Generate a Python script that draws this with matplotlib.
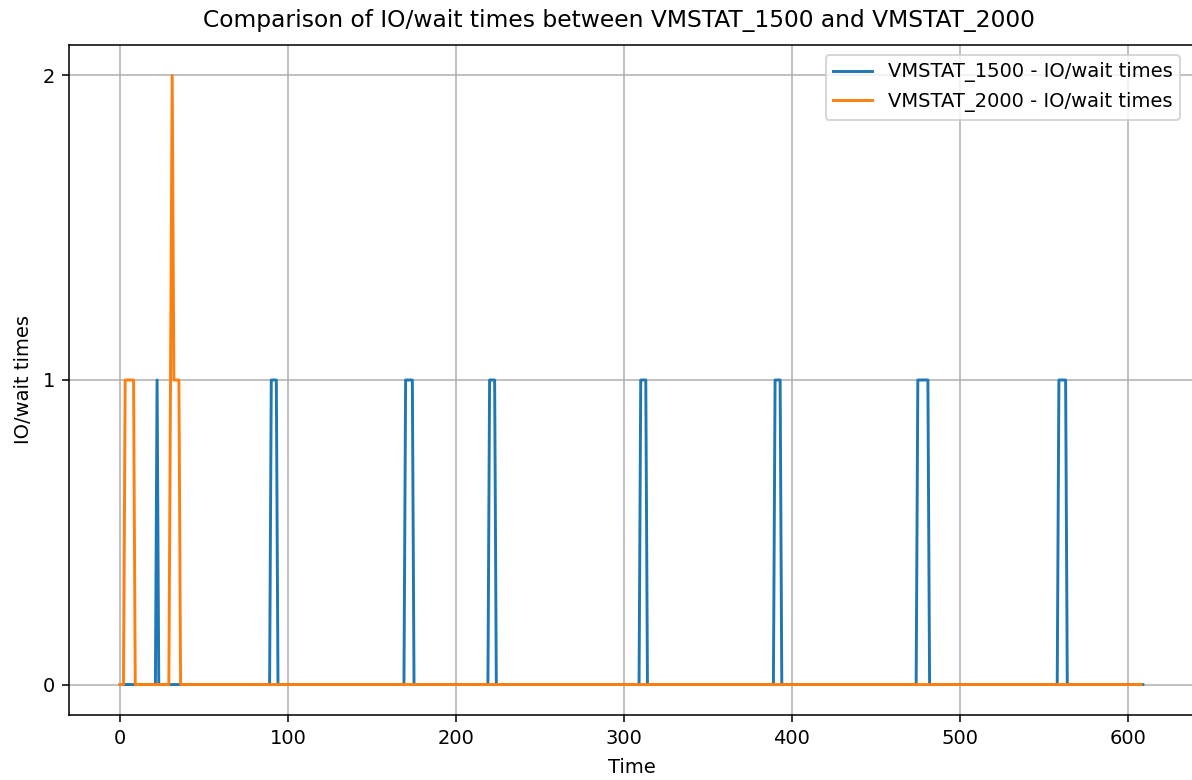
import matplotlib
matplotlib.use("Agg")
import matplotlib.pyplot as plt

# Vertices of the step-like series (time, value)
blue_time = [0, 21, 22, 23, 89, 90, 93, 94, 169, 170, 174, 175, 219, 220, 223, 224,
             309, 310, 313, 314, 389, 390, 393, 394, 474, 475, 481, 482, 558, 559, 563, 564, 609]
blue_vals = [0, 0, 1, 0, 0, 1, 1, 0, 0, 1, 1, 0, 0, 1, 1, 0,
             0, 1, 1, 0, 0, 1, 1, 0, 0, 1, 1, 0, 0, 1, 1, 0, 0]

orange_time = [0, 2, 3, 8, 9, 29, 30, 31, 32, 35, 36, 608]
orange_vals = [0, 0, 1, 1, 0, 0, 1, 2, 1, 1, 0, 0]

label_1500 = "VMSTAT_1500 - IO/wait times"
label_2000 = "VMSTAT_2000 - IO/wait times"
y_ticks = [0, 1, 2]

DPI = 140
W, H = 1192, 780
fig = plt.figure(figsize=(W / DPI, H / DPI), dpi=DPI)
ax = fig.add_axes([69 / W, 1 - 715 / H, 1125 / W, 670 / H])
ax.plot(blue_time, blue_vals, color="#1f77b4", label=label_1500)
ax.plot(orange_time, orange_vals, color="#ff7f0e", label=label_2000)
ax.set_yticks(y_ticks)
ax.set_title("Comparison of IO/wait times between VMSTAT_1500 and VMSTAT_2000",
             x=0.489, pad=9)
ax.set_xlabel("Time", labelpad=5.5)
ax.set_ylabel("IO/wait times", labelpad=5)
ax.grid(True)
ax.legend(loc="upper right", bbox_to_anchor=(1190 / 1125 - 69 / 1125 + 0.0, 1.0),
          bbox_transform=ax.transAxes)
fig.savefig("out.png", dpi=DPI)
